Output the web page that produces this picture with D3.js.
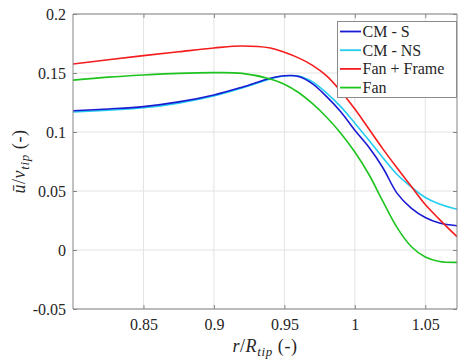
<!DOCTYPE html>
<html>
<head>
<meta charset="utf-8">
<script src="https://cdn.jsdelivr.net/npm/d3@7"></script>
<style>
  html, body { margin: 0; padding: 0; background: #fff; }
  svg { display: block; }
</style>
</head>
<body>
<svg id="chart" width="458" height="362"></svg>
<script>
// ---- data ----
const rValues = [0.800, 0.825, 0.850, 0.875, 0.900, 0.920, 0.940, 0.950, 0.960, 0.970,
                 0.980, 0.990, 1.000, 1.010, 1.020, 1.030, 1.040, 1.050, 1.060, 1.0725];
const cmS       = [0.1180, 0.1195, 0.1215, 0.1255, 0.1314, 0.1380, 0.1455, 0.1477, 0.1470, 0.1408,
                   0.1300, 0.1172, 0.1015, 0.0870, 0.0695, 0.0480, 0.0355, 0.0275, 0.0228, 0.0205];
const cmNS      = [0.1170, 0.1185, 0.1205, 0.1245, 0.1305, 0.1372, 0.1450, 0.1475, 0.1475, 0.1425,
                   0.1330, 0.1215, 0.1075, 0.0930, 0.0780, 0.0640, 0.0535, 0.0445, 0.0390, 0.0345];
const fanFrame  = [0.1576, 0.1612, 0.1647, 0.1680, 0.1712, 0.1729, 0.1712, 0.1675, 0.1628, 0.1565,
                   0.1475, 0.1345, 0.1195, 0.1025, 0.0855, 0.0695, 0.0540, 0.0385, 0.0260, 0.0113];
const fan       = [0.1440, 0.1465, 0.1483, 0.1497, 0.1503, 0.1497, 0.1450, 0.1405, 0.1335, 0.1240,
                   0.1125, 0.0990, 0.0830, 0.0640, 0.0410, 0.0190, 0.0030, -0.0060, -0.0098, -0.0105];
const seriesNames = ["CM - S", "CM - NS", "Fan + Frame", "Fan"];
const seriesColors = ["#1a1ad2", "#22cdf0", "#f41c1c", "#1ec41e"];
const xTicks = [0.85, 0.9, 0.95, 1, 1.05];
const xTickLabels = ["0.85", "0.9", "0.95", "1", "1.05"];
const yTicks = [-0.05, 0, 0.05, 0.1, 0.15, 0.2];
const yTickLabels = ["-0.05", "0", "0.05", "0.1", "0.15", "0.2"];

// ---- pick an installed serif font ----
function pickFont(cands) {
  const c = document.createElement("canvas").getContext("2d");
  const probe = "0.85 Fan + Frame mmmWwiil";
  for (const f of cands) {
    let ok = false;
    for (const base of ["monospace", "sans-serif"]) {
      c.font = `16px ${base}`; const w0 = c.measureText(probe).width;
      c.font = `16px "${f}", ${base}`; const w1 = c.measureText(probe).width;
      if (Math.abs(w1 - w0) > 0.5) ok = true;
    }
    if (ok) return `"${f}", serif`;
  }
  return "serif";
}
const FONT = pickFont(["Liberation Serif", "Tinos", "Times New Roman", "DejaVu Serif", "Noto Serif",
                       "FreeSerif", "Nimbus Roman", "Latin Modern Roman", "CMU Serif"]);

// ---- layout ----
const pL = 73, pR = 457, pT = 14, pB = 309;
const svg = d3.select("#chart");
const x = d3.scaleLinear().domain([0.8, 1.0725]).range([pL, pR]);
const y = d3.scaleLinear().domain([-0.05, 0.2]).range([pB, pT]);

// grid
const grid = svg.append("g");
grid.selectAll("line.gx").data(xTicks).join("line")
  .attr("x1", d => x(d)).attr("x2", d => x(d)).attr("y1", pT).attr("y2", pB)
  .attr("stroke", "#e3e3e3").attr("stroke-width", 1);
grid.selectAll("line.gy").data(yTicks).join("line")
  .attr("y1", d => y(d)).attr("y2", d => y(d)).attr("x1", pL).attr("x2", pR)
  .attr("stroke", "#e3e3e3").attr("stroke-width", 1);

// lines
svg.append("defs").append("clipPath").attr("id", "clip")
  .append("rect").attr("x", pL).attr("y", pT).attr("width", pR - pL).attr("height", pB - pT);
const allSeries = [cmS, cmNS, fanFrame, fan];
const line = d3.line().x(d => x(d[0])).y(d => y(d[1])).curve(d3.curveCatmullRom.alpha(0.5));
const drawOrder = [1, 0, 2, 3];
const lg = svg.append("g").attr("clip-path", "url(#clip)");
drawOrder.forEach(i => {
  lg.append("path")
    .datum(rValues.map((r, k) => [r, allSeries[i][k]]))
    .attr("d", line).attr("fill", "none")
    .attr("stroke", seriesColors[i]).attr("stroke-width", 1.6);
});

// axes (MATLAB style, ticks inward, box)
const axisColor = "#858585";
const axB = svg.append("g").attr("transform", `translate(0,${pB})`)
  .call(d3.axisBottom(x).tickValues(xTicks).tickSize(-4).tickFormat((d, i) => xTickLabels[i]).tickPadding(10));
const axL = svg.append("g").attr("transform", `translate(${pL},0)`)
  .call(d3.axisLeft(y).tickValues(yTicks).tickSize(-4).tickFormat((d, i) => yTickLabels[i]).tickPadding(7));
const axT = svg.append("g").attr("transform", `translate(0,${pT})`)
  .call(d3.axisTop(x).tickValues(xTicks).tickSize(-4).tickFormat(""));
const axR = svg.append("g").attr("transform", `translate(${pR},0)`)
  .call(d3.axisRight(y).tickValues(yTicks).tickSize(-4).tickFormat(""));
[axB, axL, axT, axR].forEach(a => {
  a.attr("font-family", FONT).attr("font-size", 16);
  a.select(".domain").attr("stroke", axisColor).attr("stroke-width", 1);
  a.selectAll(".tick line").attr("stroke", axisColor);
  a.selectAll("text").attr("fill", "#262626").style("font-family", FONT);
});
axB.selectAll(".domain").attr("d", `M${pL},0H${pR}`);
axT.selectAll(".domain").attr("d", `M${pL},0H${pR}`);
axL.selectAll(".domain").attr("d", `M0,${pT}V${pB}`);
axR.selectAll(".domain").attr("d", `M0,${pT}V${pB}`);

// axis labels
const xl = svg.append("text").attr("x", (pL + pR) / 2).attr("y", 352)
  .attr("text-anchor", "middle").style("font-family", FONT).attr("font-size", 18)
  .attr("letter-spacing", 0.6).attr("fill", "#262626");
xl.append("tspan").attr("font-style", "italic").text("r");
xl.append("tspan").text("/");
xl.append("tspan").attr("font-style", "italic").text("R");
xl.append("tspan").attr("font-style", "italic").attr("font-size", 13).attr("dy", 4).text("tip");
xl.append("tspan").attr("dy", -4).text(" (-)");

const yl = svg.append("text")
  .attr("transform", `translate(25,${(pT + pB) / 2}) rotate(-90)`)
  .attr("text-anchor", "middle").style("font-family", FONT).attr("font-size", 18)
  .attr("letter-spacing", 0.6).attr("fill", "#262626");
yl.append("tspan").attr("font-style", "italic").text("\u016B");
yl.append("tspan").text("/");
yl.append("tspan").attr("font-style", "italic").text("v");
yl.append("tspan").attr("font-style", "italic").attr("font-size", 13).attr("dy", 4).text("tip");
yl.append("tspan").attr("dy", -4).text(" (-)");

// legend
const leg = svg.append("g");
leg.append("rect").attr("x", 337.5).attr("y", 21.5).attr("width", 119).attr("height", 76)
  .attr("fill", "#fff").attr("stroke", "#8a8a8a").attr("stroke-width", 1);
seriesNames.forEach((name, i) => {
  const cy = 31.5 + i * 18.7;
  leg.append("line").attr("x1", 340).attr("x2", 361).attr("y1", cy).attr("y2", cy)
    .attr("stroke", seriesColors[i]).attr("stroke-width", 1.8);
  leg.append("text").attr("x", 362.5).attr("y", cy + 5.5)
    .style("font-family", FONT).attr("font-size", 16).attr("fill", "#262626").text(name);
});
</script>
</body>
</html>
